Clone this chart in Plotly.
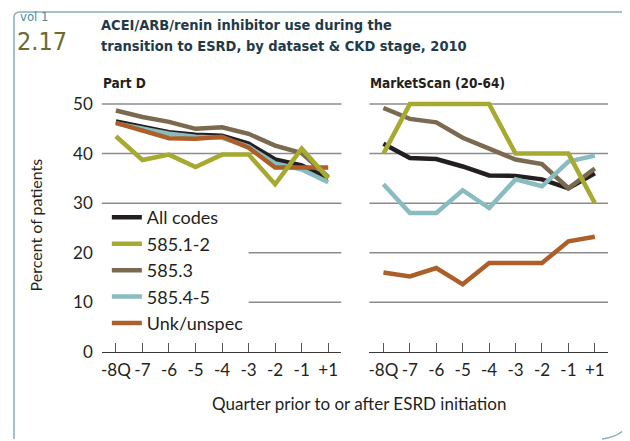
import plotly.graph_objects as go

# ---------------- data ----------------
quarters = ["-8Q", "-7", "-6", "-5", "-4", "-3", "-2", "-1", "+1"]
series_names = ["All codes", "585.1-2", "585.3", "585.4-5", "Unk/unspec"]

partd_all = [46.5, 45.3, 44.3, 43.8, 43.6, 42.0, 38.8, 37.6, 35.0]
partd_5851_2 = [43.5, 38.7, 39.8, 37.3, 39.8, 39.8, 33.8, 41.0, 35.0]
partd_5853 = [48.7, 47.4, 46.4, 45.0, 45.3, 44.0, 41.6, 40.1, 35.3]
partd_5854_5 = [46.1, 45.0, 44.0, 43.4, 43.2, 41.4, 38.0, 36.8, 34.2]
partd_unk = [46.2, 44.6, 43.1, 43.0, 43.4, 41.2, 37.2, 37.2, 37.2]

ms_all = [42.0, 39.1, 38.9, 37.4, 35.6, 35.5, 34.8, 33.0, 36.0]
ms_5851_2 = [40.0, 50.0, 50.0, 50.0, 50.0, 40.0, 40.0, 40.0, 30.0]
ms_5853 = [49.2, 47.0, 46.3, 43.2, 41.0, 38.8, 37.9, 33.0, 37.0]
ms_5854_5 = [33.8, 28.0, 28.0, 32.6, 29.0, 34.8, 33.4, 38.4, 39.6]
ms_unk = [16.0, 15.2, 16.9, 13.6, 17.9, 17.9, 17.9, 22.3, 23.2]

y_ticks = [0, 10, 20, 30, 40, 50]

# ---------------- style ----------------
W, H = 630, 441
COLORS = {
    "All codes": "#231f20",
    "585.1-2": "#a7aa30",
    "585.3": "#7c6a50",
    "585.4-5": "#88bcc0",
    "Unk/unspec": "#ad5f29",
}
FONT = "Lato, 'Open Sans', sans-serif"
COND = "'DejaVu Sans Condensed', 'Liberation Sans Narrow', sans-serif"
TXT = "#231f20"
GRID = "#8c8c8c"


def px(x):
    return x / W


def py(y):
    return 1 - y / H


partd = {
    "All codes": partd_all, "585.1-2": partd_5851_2, "585.3": partd_5853,
    "585.4-5": partd_5854_5, "Unk/unspec": partd_unk,
}
mscan = {
    "All codes": ms_all, "585.1-2": ms_5851_2, "585.3": ms_5853,
    "585.4-5": ms_5854_5, "Unk/unspec": ms_unk,
}

draw_order = ["All codes", "585.3", "585.4-5", "Unk/unspec", "585.1-2"]

fig = go.Figure()
for name in draw_order:
    fig.add_trace(go.Scatter(
        x=quarters, y=partd[name], mode="lines", name=name,
        line=dict(color=COLORS[name], width=4.5),
        legendrank=series_names.index(name) + 1,
        legendgroup=name, showlegend=True,
        xaxis="x", yaxis="y",
    ))
for name in draw_order:
    fig.add_trace(go.Scatter(
        x=quarters, y=mscan[name], mode="lines", name=name,
        line=dict(color=COLORS[name], width=4.5),
        legendgroup=name, showlegend=False,
        xaxis="x2", yaxis="y2",
    ))

ydom = [round(py(351.5), 5), round(py(351.5 - 52 * 5.08), 5)]

xcommon = dict(
    type="category", range=[-0.53, 8.5], showgrid=False, zeroline=False,
    showline=True, linecolor="#3a3a3a", linewidth=1.3,
    ticks="inside", ticklen=9, tickwidth=1, tickcolor="#555555",
    ticklabelstandoff=3,
    tickfont=dict(family=FONT, size=17, color=TXT),
    fixedrange=True,
)
fig.update_layout(
    xaxis=dict(domain=[px(93), px(333)], anchor="y", **xcommon),
    xaxis2=dict(domain=[px(361), px(600)], anchor="y2", **xcommon),
    yaxis=dict(domain=ydom, range=[0, 52], anchor="x", tickvals=y_ticks,
               showgrid=False, zeroline=False, showline=False, ticks="",
               ticklabelstandoff=8,
               tickfont=dict(family=FONT, size=17, color=TXT)),
    yaxis2=dict(domain=ydom, range=[0, 52], anchor="x2", tickvals=y_ticks,
                showticklabels=False, showgrid=False, zeroline=False,
                showline=False, ticks=""),
)

# gridlines (left panel partially hidden behind legend area)
shapes = []
for v in [30, 40, 50]:
    shapes.append(dict(type="line", xref="x domain", yref="y", x0=0, x1=1,
                       y0=v, y1=v, line=dict(color=GRID, width=1.5), layer="below"))
for v in [10, 20]:
    shapes.append(dict(type="line", xref="x", yref="y", x0=5, x1=8.5,
                       y0=v, y1=v, line=dict(color=GRID, width=1.5), layer="below"))
for v in [10, 20, 30, 40, 50]:
    shapes.append(dict(type="line", xref="x2 domain", yref="y2", x0=0, x1=1,
                       y0=v, y1=v, line=dict(color=GRID, width=1.5), layer="below"))

# page frame
frame_col = "#86aeb8"
shapes.append(dict(type="path", xref="paper", yref="paper",
                   path=f"M {px(5)} {py(441)} L {px(5)} {py(9)} Q {px(5)} {py(3)} {px(11)} {py(3)} L {px(630)} {py(3)}",
                   line=dict(color=frame_col, width=1.5)))
shapes.append(dict(type="path", xref="paper", yref="paper",
                   path=f"M {px(594)} {py(441)} Q {px(626)} {py(437)} {px(630)} {py(400)}",
                   line=dict(color=frame_col, width=1.5)))

annotations = [
    dict(text="vol 1", x=px(9), y=py(8), xanchor="left", yanchor="middle",
         font=dict(family=COND, size=13, color="#4d8b98")),
    dict(text="2.17", x=px(6), y=py(33), xanchor="left", yanchor="middle",
         font=dict(family=COND, size=25, color="#6b6c2c")),
    dict(text="<b>ACEI/ARB/renin inhibitor use during the</b>", x=px(90), y=py(16),
         xanchor="left", yanchor="middle",
         font=dict(family=COND, size=14.5, color="#1f3a48")),
    dict(text="<b>transition to ESRD, by dataset &amp; CKD stage, 2010</b>", x=px(90), y=py(38),
         xanchor="left", yanchor="middle",
         font=dict(family=COND, size=14.5, color="#1f3a48")),
    dict(text="<b>Part D</b>", x=px(92), y=py(76), xanchor="left", yanchor="middle",
         font=dict(family=COND, size=13.5, color=TXT)),
    dict(text="<b>MarketScan (20-64)</b>", x=px(360), y=py(76), xanchor="left", yanchor="middle",
         font=dict(family=COND, size=13.5, color=TXT)),
    dict(text="Percent of patients", x=px(27), y=py(221), textangle=-90,
         xanchor="center", yanchor="middle",
         font=dict(family=FONT, size=16, color=TXT)),
    dict(text="Quarter prior to or after ESRD initiation", x=px(351), y=py(405),
         xanchor="center", yanchor="middle",
         font=dict(family=FONT, size=17, color=TXT)),
]
for a in annotations:
    a.update(xref="paper", yref="paper", showarrow=False)

fig.update_layout(
    width=W, height=H,
    margin=dict(l=0, r=0, t=0, b=0),
    paper_bgcolor="white", plot_bgcolor="rgba(0,0,0,0)",
    shapes=shapes, annotations=annotations,
    showlegend=True,
    legend=dict(x=px(98), y=py(195), xanchor="left", yanchor="top",
                bgcolor="rgba(0,0,0,0)", traceorder="grouped", tracegroupgap=0,
                font=dict(family=FONT, size=18, color=TXT),
                itemwidth=30),
)

fig.write_html("out.html")
